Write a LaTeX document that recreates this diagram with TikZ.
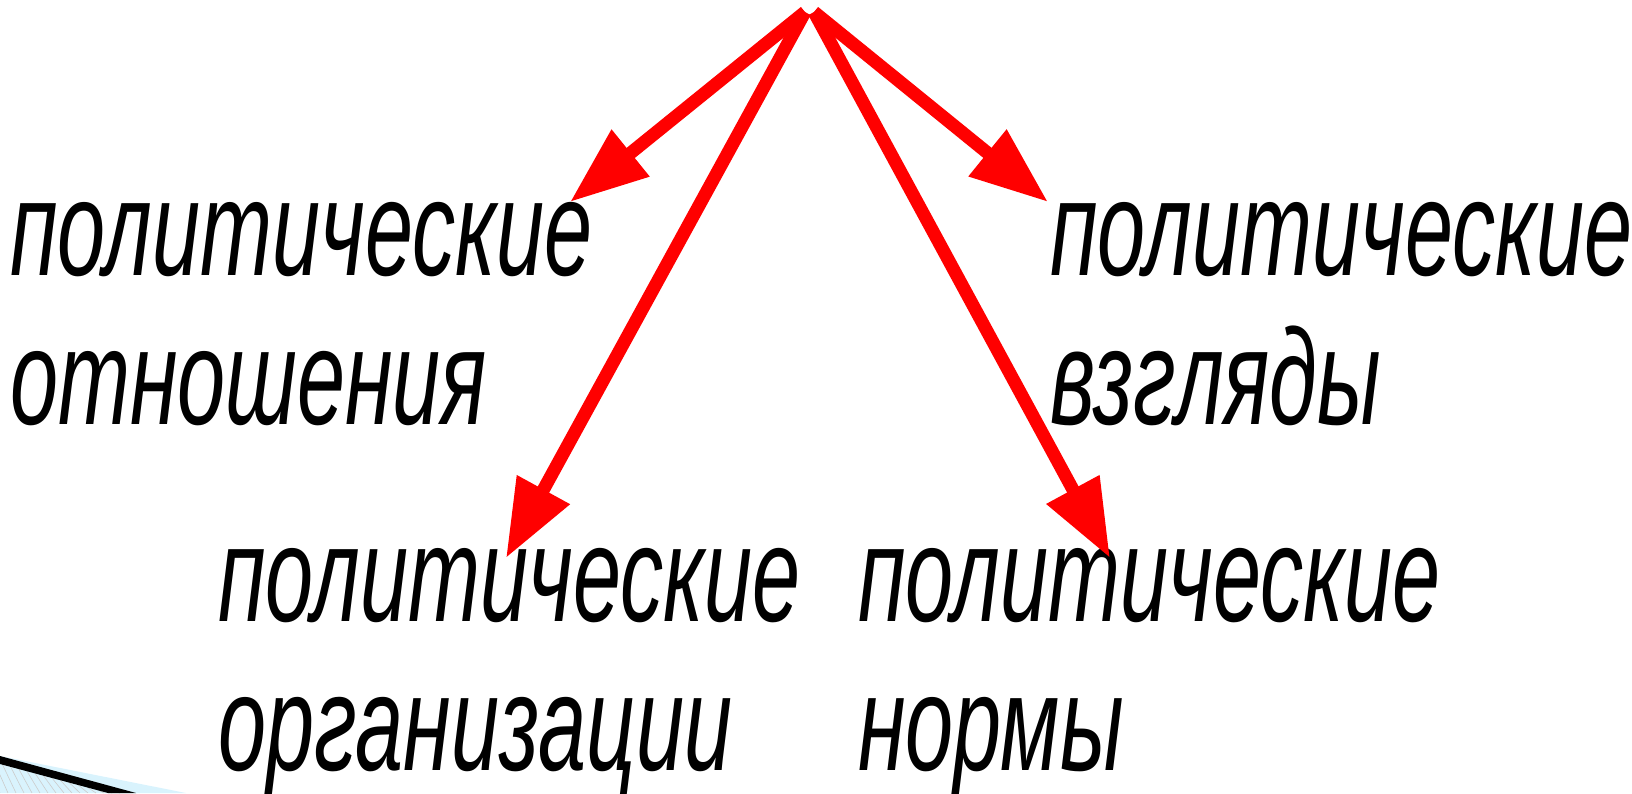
\documentclass[tikz,border=0pt]{standalone}
\usepackage{fontspec}
\newfontfamily\lbl[FakeStretch=0.635]{Liberation Sans}
\usetikzlibrary{arrows.meta}
\tikzset{
  lab/.style={anchor=base west, inner sep=0pt, font=\lbl\itshape\fontsize{136}{149}\selectfont, align=left, text=black},
  redarrow/.style={draw=red, line width=13pt, -{Triangle[length=78pt,width=57pt]}}
}
\begin{document}
\begin{tikzpicture}[x=1pt,y=-1pt]
\useasboundingbox (0,0) rectangle (1632,793);
% decoration bottom-left
\fill[cyan!15] (0,756) -- (186,793) -- (0,793) -- cycle;
\foreach \i in {-30,-22,...,110} {\draw[gray!40,line width=0.6pt] (\i,763+\i*0.25) -- (\i+14,793);}
\fill[white] (-40,700) -- (0,700) -- (0,793) -- (-40,793) -- cycle;
\fill[black] (0,756) -- (136,793) -- (108,793) -- (0,764) -- cycle;
% apex coordinates
\coordinate (apexL) at (805,12);
\coordinate (apexR) at (814,12);
% labels (anchored at the baseline of the last line)
\node[lab] (rel) at (10,424) {политические\\отношения};
\node[lab] (view) at (1050,424) {политические\\взгляды};
\node[lab] (org) at (218,770) {политические\\организации};
\node[lab] (norm) at (858,770) {политические\\нормы};
% arrow tips
\coordinate (t1) at (570,202);
\coordinate (t2) at (506,558);
\coordinate (t3) at (1048,202);
\coordinate (t4) at (1110,558);
\draw[redarrow] (apexL) -- (t1);
\draw[redarrow] (apexL) -- (t2);
\draw[redarrow] (apexR) -- (t3);
\draw[redarrow] (apexR) -- (t4);
\end{tikzpicture}
\end{document}
